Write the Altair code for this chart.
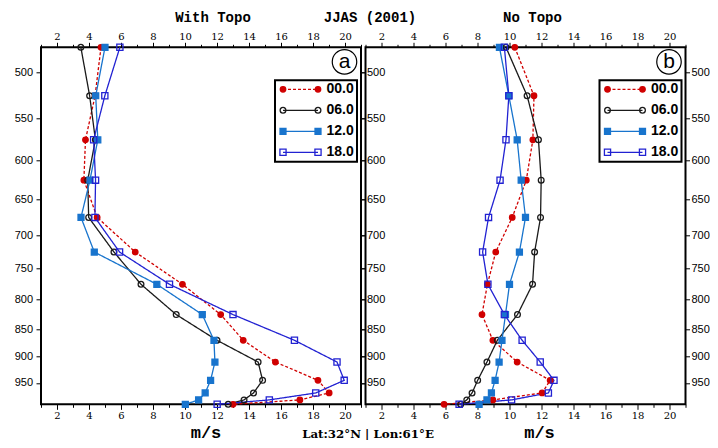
import altair as alt
import pandas as pd

# ---------------- data ----------------
LEVELS = [475, 525, 575, 625, 675, 725, 775, 825, 870, 910, 945, 970, 984, 993]
SERIES = ["00.0", "06.0", "12.0", "18.0"]

TOPO_00 = [4.75, 4.38, 3.78, 3.68, 4.51, 6.89, 9.84, 12.23, 13.64, 15.65, 18.31, 19.01, 17.18, 13.00]
TOPO_06 = [3.49, 4.04, 4.40, 3.92, 3.98, 5.56, 7.25, 9.45, 12.00, 14.57, 14.85, 14.28, 13.69, 12.70]
TOPO_12 = [5.00, 4.42, 4.55, 4.06, 3.50, 4.33, 8.24, 11.08, 11.81, 11.87, 11.60, 11.26, 10.85, 10.02]
TOPO_18 = [5.93, 4.99, 4.29, 4.41, 4.37, 5.91, 9.03, 13.00, 16.84, 19.50, 19.95, 18.17, 15.27, 12.01]

NOTOPO_00 = [10.33, 11.53, 11.46, 11.05, 10.17, 9.14, 8.62, 8.28, 8.96, 10.48, 12.54, 12.04, 8.96, 5.91]
NOTOPO_06 = [9.78, 11.10, 11.81, 11.98, 11.94, 11.57, 11.44, 10.50, 9.24, 8.59, 8.01, 7.66, 7.33, 6.95]
NOTOPO_12 = [9.37, 9.96, 10.48, 10.73, 11.00, 10.62, 10.00, 9.75, 9.53, 9.35, 9.10, 8.87, 8.59, 8.10]
NOTOPO_18 = [9.68, 9.96, 9.78, 9.41, 8.69, 8.32, 8.65, 9.68, 10.79, 11.92, 12.78, 12.43, 10.13, 6.85]

X_TICKS = list(range(1, 22))
Y_TICKS = [500, 550, 600, 650, 700, 750, 800, 850, 900, 950]
X_DOMAIN = [1, 21]
Y_DOMAIN = [475, 993]

PANEL_TITLES = ["With Topo", "No Topo"]
PANEL_LABELS = ["a", "b"]
SUPTITLE = "JJAS (2001)"
UNITS = "m/s"
LOCATION = "Lat:32\u00b0N | Lon:61\u00b0E"

# ---------------- styles ----------------
RED, BLACK, CYAN, BLUE = "#d00000", "#1a1a1a", "#1874cd", "#2222d2"
COLORS = [RED, BLACK, CYAN, BLUE]
FILLS = [RED, "transparent", CYAN, "transparent"]
SHAPES = ["circle", "circle", "square", "square"]
SIZES = [30, 38, 38, 44]
DASHES = [[3, 2], [1, 0], [1, 0], [1, 0]]

W, H = 320, 357

color_scale = alt.Scale(domain=SERIES, range=COLORS)
fill_scale = alt.Scale(domain=SERIES, range=FILLS)
shape_scale = alt.Scale(domain=SERIES, range=SHAPES)
size_scale = alt.Scale(domain=SERIES, range=SIZES)
dash_scale = alt.Scale(domain=SERIES, range=DASHES)
xs = alt.Scale(domain=X_DOMAIN, nice=False, zero=False)
ys = alt.Scale(type="log", domain=Y_DOMAIN, reverse=True, nice=False)

x_axis = dict(
    values=X_TICKS,
    labelExpr="datum.value % 2 == 0 ? datum.label : ''",
    tickSize={"condition": {"test": "datum.value % 2 == 0", "value": 5}, "value": 3},
    labelFont="DejaVu Serif", labelFontSize=10, labelPadding=1,
    domain=False, grid=False, title=None, labelOverlap=False, labelFlush=False,
    tickColor="black", labelColor="black",
)
y_axis = dict(
    values=Y_TICKS, format="d",
    labelFont="Liberation Sans", labelFontSize=11,
    domain=False, grid=False, title=None, labelOverlap=False, labelFlush=False,
    tickColor="black", labelColor="black",
)


def panel(vals, idx, show_left_labels, extra):
    rows = []
    for s, arr in zip(SERIES, vals):
        for p, v in zip(LEVELS, arr):
            rows.append({"p": p, "v": v, "series": s})
    df = pd.DataFrame(rows)

    lines = alt.Chart(df).mark_line(strokeWidth=1.3).encode(
        x=alt.X("v:Q", scale=xs, axis=alt.Axis(orient="bottom", **x_axis)),
        y=alt.Y("p:Q", scale=ys, axis=alt.Axis(orient="left", labels=show_left_labels,
                                                  tickSize=5, labelPadding=3.5, **y_axis)),
        order=alt.Order("p:Q"),
        color=alt.Color("series:N", scale=color_scale, legend=None),
        strokeDash=alt.StrokeDash("series:N", scale=dash_scale, legend=None),
    )
    points = alt.Chart(df).mark_point(strokeWidth=1.3, opacity=1).encode(
        x=alt.X("v:Q", scale=xs, axis=None),
        y=alt.Y("p:Q", scale=ys, axis=None),
        shape=alt.Shape("series:N", scale=shape_scale, legend=None),
        stroke=alt.Stroke("series:N", scale=color_scale, legend=None),
        fill=alt.Fill("series:N", scale=fill_scale, legend=None),
        size=alt.Size("series:N", scale=size_scale, legend=None),
    )
    axes2 = alt.Chart(df).mark_point(opacity=0).encode(
        x=alt.X("v:Q", scale=xs, axis=alt.Axis(orient="top", **x_axis)),
        y=alt.Y("p:Q", scale=ys, axis=alt.Axis(orient="right", tickSize=4, labelPadding=1.5,
                                                  **y_axis)),
    )

    # legend
    leg_df = pd.DataFrame({"series": SERIES})
    ly = alt.Y("series:N", scale=alt.Scale(type="point", domain=SERIES, range=[42, 105], padding=0),
               axis=None)
    one = pd.DataFrame({"k": [0]})
    box = alt.Chart(one).mark_rect(fill="white", stroke="black", strokeWidth=2).encode(
        x=alt.value(234), x2=alt.value(316), y=alt.value(33), y2=alt.value(114.5))
    leg_line = alt.Chart(leg_df).mark_rule(strokeWidth=1.3).encode(
        x=alt.value(242), x2=alt.value(277), y=ly,
        color=alt.Color("series:N", scale=color_scale, legend=None),
        strokeDash=alt.StrokeDash("series:N", scale=dash_scale, legend=None))
    leg_pts = []
    for xv in (242, 277):
        leg_pts.append(alt.Chart(leg_df).mark_point(strokeWidth=1.3, opacity=1).encode(
            x=alt.value(xv), y=ly,
            shape=alt.Shape("series:N", scale=shape_scale, legend=None),
            stroke=alt.Stroke("series:N", scale=color_scale, legend=None),
            fill=alt.Fill("series:N", scale=fill_scale, legend=None),
            size=alt.Size("series:N", scale=size_scale, legend=None)))
    leg_text = alt.Chart(leg_df).mark_text(
        align="left", baseline="middle", font="Liberation Sans", fontWeight="bold",
        fontSize=14, color="black").encode(x=alt.value(285.5), y=ly, text="series:N")

    circ = alt.Chart(one).mark_point(shape="circle", size=600, stroke="black",
                                     strokeWidth=1.2, fill="white", opacity=1).encode(
        x=alt.value(303.5), y=alt.value(14.5))
    circ_t = alt.Chart(pd.DataFrame({"t": [PANEL_LABELS[idx]]})).mark_text(
        font="Liberation Sans", fontSize=21, baseline="middle", align="center",
        color="black").encode(x=alt.value(303.5), y=alt.value(14.5), text="t:N")

    layers = [lines, points, axes2, box, leg_line] + leg_pts + [leg_text, circ, circ_t] + extra
    return alt.layer(*layers).resolve_scale(x="independent", y="independent").properties(
        width=W, height=H)


def text_layer(txt, x, y, font, size, weight="normal"):
    return alt.Chart(pd.DataFrame({"t": [txt]})).mark_text(
        font=font, fontSize=size, fontWeight=weight, align="center", baseline="alphabetic",
        color="black").encode(x=alt.value(x), y=alt.value(y), text="t:N")


mono = "Liberation Mono"
left_extra = [
    text_layer(PANEL_TITLES[0], 172, -25.3, mono, 14, "bold"),
    text_layer(SUPTITLE, 329, -25.3, mono, 14, "bold"),
    text_layer(UNITS, 165, 390.5, mono, 17, "bold"),
    text_layer(LOCATION, 327, 390.8, "DejaVu Serif", 11.8, "bold"),
]
right_extra = [
    text_layer(PANEL_TITLES[1], 167, -25.3, mono, 14, "bold"),
    text_layer(UNITS, 174, 390.5, mono, 17, "bold"),
]

left = panel([TOPO_00, TOPO_06, TOPO_12, TOPO_18], 0, True, left_extra)
right = panel([NOTOPO_00, NOTOPO_06, NOTOPO_12, NOTOPO_18], 1, False, right_extra)

chart = alt.hconcat(left, right, spacing=4.5, bounds="flush").properties(
    autosize=alt.AutoSizeParams(type="none"),
    padding={"left": 33, "top": 39.3, "right": 669, "bottom": 392.7},
).configure_view(stroke="black", strokeWidth=2)

chart.save("out.html", embed_options={"renderer": "svg", "actions": False})
